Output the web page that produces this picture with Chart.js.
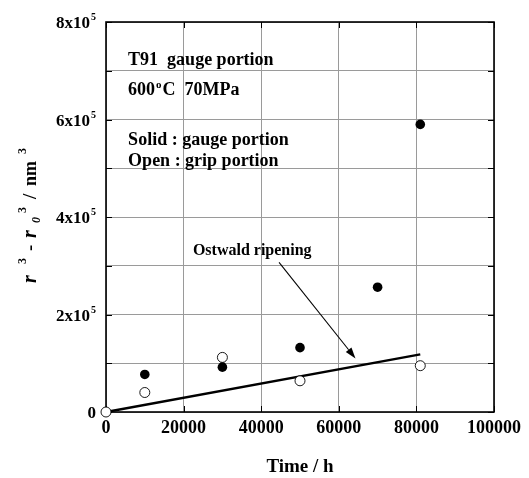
<!DOCTYPE html>
<html>
<head>
<meta charset="utf-8">
<title>T91 gauge portion - r^3 - r0^3 vs time</title>
<script src="https://cdn.jsdelivr.net/npm/chart.js@4/dist/chart.umd.min.js"></script>
<style>
  html, body { margin: 0; padding: 0; background: #ffffff; }
  #wrap { width: 529px; height: 478px; }
</style>
</head>
<body>
<div id="wrap"><canvas id="c" width="529" height="478"></canvas></div>
<script>
// ---- data ----
const solidTime   = [10000, 30000, 50000, 70000, 81000];
const solidValues = [77000, 92000, 132000, 256000, 590000];   // gauge portion
const openTime    = [0, 10000, 30000, 50000, 81000];
const openValues  = [0, 40000, 112000, 64000, 95000];         // grip portion
const ostwaldTime   = [0, 81000];
const ostwaldValues = [0, 118000];                            // Ostwald ripening line

const xTickValues = [0, 20000, 40000, 60000, 80000, 100000];
const yTickValues   = [0, 200000, 400000, 600000, 800000];
const yTickMantissa = ['0', '2x10', '4x10', '6x10', '8x10'];
const yTickExponent = ['', '5', '5', '5', '5'];

const SERIF = '"Liberation Serif", "Times New Roman", serif';

function toPoints(xs, ys) { return xs.map((x, i) => ({ x: x, y: ys[i] })); }

// draw a run of text pieces left to right, each with its own font and baseline shift
function drawRun(ctx, x, y, pieces) {
  let cx = x;
  pieces.forEach(p => {
    ctx.font = p.font;
    ctx.fillText(p.t, cx, y + (p.dy || 0));
    cx += ctx.measureText(p.t).width + (p.gap || 0);
  });
}

const B = s => 'bold ' + s + 'px ' + SERIF;
const BI = s => 'italic bold ' + s + 'px ' + SERIF;

const decorations = {
  id: 'decorations',
  beforeDatasetsDraw(chart) {
    const { ctx, chartArea: a, scales } = chart;
    ctx.save();
    // inward tick marks on all four sides
    ctx.strokeStyle = '#000';
    ctx.lineWidth = 1;
    const tl = 6;
    scales.y.ticks.forEach(t => {
      const py = Math.round(scales.y.getPixelForValue(t.value)) + 0.5;
      ctx.beginPath();
      ctx.moveTo(a.left, py); ctx.lineTo(a.left + tl, py);
      ctx.moveTo(a.right, py); ctx.lineTo(a.right - tl, py);
      ctx.stroke();
    });
    scales.x.ticks.forEach(t => {
      const px = Math.round(scales.x.getPixelForValue(t.value)) + 0.5;
      ctx.beginPath();
      ctx.moveTo(px, a.bottom); ctx.lineTo(px, a.bottom - tl);
      ctx.moveTo(px, a.top); ctx.lineTo(px, a.top + tl);
      ctx.stroke();
    });
    // frame
    ctx.lineWidth = 1.6;
    ctx.strokeRect(a.left, a.top, a.right - a.left, a.bottom - a.top);
    ctx.restore();
  },
  afterDatasetsDraw(chart) {
    const { ctx, scales } = chart;
    const X = v => scales.x.getPixelForValue(v);
    const Y = v => scales.y.getPixelForValue(v);
    ctx.save();
    ctx.fillStyle = '#000';
    ctx.textBaseline = 'alphabetic';
    ctx.textAlign = 'left';

    // y tick labels with superscript exponent
    yTickValues.forEach((v, i) => {
      const py = Y(v);
      const right = 96;
      ctx.font = B(10);
      const we = yTickExponent[i] ? ctx.measureText(yTickExponent[i]).width + 1 : 0;
      ctx.font = B(17);
      const wm = ctx.measureText(yTickMantissa[i]).width;
      ctx.fillText(yTickMantissa[i], right - we - wm, py + 6);
      if (yTickExponent[i]) {
        ctx.font = B(10);
        ctx.fillText(yTickExponent[i], right - we + 1, py - 2);
      }
    });

    // legend-style notes in the upper left
    const nx = X(5700);
    drawRun(ctx, nx, Y(711000), [{ t: 'T91  gauge portion', font: B(18) }]);
    drawRun(ctx, nx, Y(650000), [
      { t: '600', font: B(18), gap: 1 },
      { t: 'o', font: B(11), dy: -7, gap: 1 },
      { t: 'C  70MPa', font: B(18) }
    ]);
    drawRun(ctx, nx, Y(547000), [{ t: 'Solid : gauge portion', font: B(18) }]);
    drawRun(ctx, nx, Y(504000), [{ t: 'Open : grip portion', font: B(18) }]);

    // Ostwald ripening label and arrow
    drawRun(ctx, X(22400), Y(321500), [{ t: 'Ostwald ripening', font: B(16) }]);
    const x1 = X(44600), y1 = Y(307000), x2 = X(64300), y2 = Y(110000);
    const ang = Math.atan2(y2 - y1, x2 - x1);
    const hl = 11, hw = 3.6;
    const bx = x2 - hl * Math.cos(ang), by = y2 - hl * Math.sin(ang);
    ctx.strokeStyle = '#000';
    ctx.lineWidth = 1.1;
    ctx.beginPath(); ctx.moveTo(x1, y1); ctx.lineTo(bx, by); ctx.stroke();
    ctx.beginPath();
    ctx.moveTo(x2, y2);
    ctx.lineTo(bx + hw * Math.sin(ang), by - hw * Math.cos(ang));
    ctx.lineTo(bx - hw * Math.sin(ang), by + hw * Math.cos(ang));
    ctx.closePath(); ctx.fill();

    // x axis title
    ctx.font = B(19);
    ctx.textAlign = 'center';
    const a = chart.chartArea;
    ctx.fillText('Time / h', (a.left + a.right) / 2, 472);

    // y axis title, rotated: r^3 - r0^3 / nm^3
    ctx.textAlign = 'left';
    ctx.translate(36, 283);
    ctx.rotate(-Math.PI / 2);
    const title = [
      { t: 'r', font: BI(20), at: 0, dy: 0 },
      { t: '3', font: B(12), at: 19, dy: -10 },
      { t: '-', font: B(19), at: 32, dy: 0 },
      { t: 'r', font: BI(20), at: 45, dy: 0 },
      { t: '0', font: BI(12), at: 60, dy: 4 },
      { t: '3', font: B(12), at: 70, dy: -10 },
      { t: '/', font: B(19), at: 84, dy: 0 },
      { t: 'nm', font: B(18), at: 97, dy: 0 },
      { t: '3', font: B(12), at: 129, dy: -10 }
    ];
    title.forEach(p => { ctx.font = p.font; ctx.fillText(p.t, p.at, p.dy); });
    ctx.restore();
  }
};

new Chart(document.getElementById('c'), {
  type: 'scatter',
  data: {
    datasets: [
      {
        label: 'Ostwald ripening',
        data: toPoints(ostwaldTime, ostwaldValues),
        showLine: true,
        borderColor: '#000',
        borderWidth: 2.3,
        pointRadius: 0,
        order: 3,
        clip: false
      },
      {
        label: 'Solid : gauge portion',
        data: toPoints(solidTime, solidValues),
        backgroundColor: '#000',
        borderColor: '#000',
        borderWidth: 0,
        pointRadius: 4.8,
        order: 1,
        clip: false
      },
      {
        label: 'Open : grip portion',
        data: toPoints(openTime, openValues),
        backgroundColor: '#fff',
        borderColor: '#000',
        borderWidth: 0.9,
        pointRadius: 5,
        order: 2,
        clip: false
      }
    ]
  },
  options: {
    responsive: false,
    animation: false,
    devicePixelRatio: 1,
    layout: { padding: { left: 0, right: 35, top: 22, bottom: 0 } },
    plugins: { legend: { display: false }, tooltip: { enabled: false } },
    scales: {
      x: {
        type: 'linear',
        min: 0, max: 100000,
        afterFit: s => { s.height = 66; },
        afterBuildTicks: s => { s.ticks = xTickValues.map(v => ({ value: v })); },
        ticks: {
          padding: 6,
          color: '#000',
          font: { family: SERIF, size: 18, weight: 'bold' },
          maxRotation: 0,
          callback: v => String(v)
        },
        grid: { color: '#9a9a9a', lineWidth: 1, drawTicks: false },
        border: { display: false }
      },
      y: {
        type: 'linear',
        min: 0, max: 800000,
        afterFit: s => { s.width = 106; },
        ticks: { stepSize: 100000, display: false },
        grid: { color: '#9a9a9a', lineWidth: 1, drawTicks: false },
        border: { display: false }
      }
    }
  },
  plugins: [decorations]
});
</script>
</body>
</html>
